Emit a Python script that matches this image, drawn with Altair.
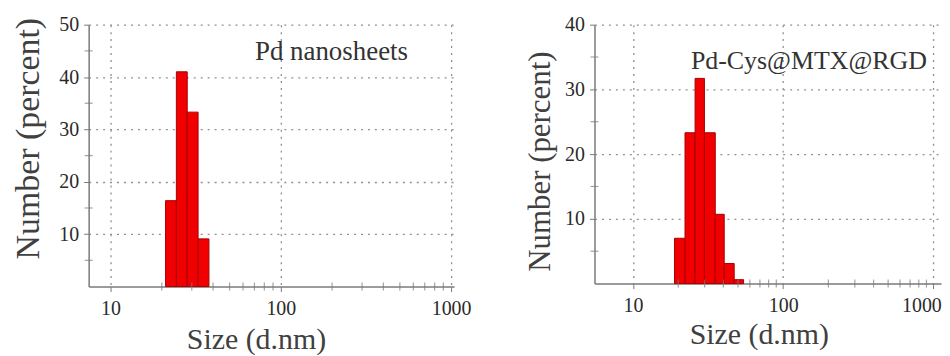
import altair as alt
import pandas as pd

FONT = "Liberation Serif"

# ---- data ----
left_lo = [21.04, 24.36, 28.21, 32.67]
left_hi = [24.36, 28.21, 32.67, 37.84]
left_pct = [16.4, 41.0, 33.3, 9.1]

right_lo = [18.9, 22.2, 25.9, 29.9, 35.3, 40.5, 47.2]
right_hi = [22.2, 25.9, 29.9, 35.3, 40.5, 47.2, 54.5]
right_pct = [7.0, 23.3, 31.7, 23.3, 10.7, 3.1, 0.6]

x_major = [10, 100, 1000]
x_minor = [20, 30, 40, 50, 60, 70, 80, 90, 200, 300, 400, 500, 600, 700, 800, 900]
left_y_major = [10, 20, 30, 40, 50]
left_y_minor = [5, 15, 25, 35, 45]
right_y_major = [10, 20, 30, 40]
right_y_minor = [5, 15, 25, 35]

labels = ["Pd nanosheets", "Pd-Cys@MTX@RGD"]
label_x = [70.5, 24.3]
label_y = [43.3, 33.1]

RED = "#f00000"
EDGE = "#a80000"
AXC = "#7a7a7a"


def panel(lo, hi, pct, xdom, ymax, ymaj, ymin, width, height, label, lx, ly,
          ytitle_size, ytx, yty, xtx, xty, last_label_shift, label_size):
    xs = alt.Scale(type="log", domain=xdom, nice=False)
    ys = alt.Scale(domain=[0, ymax], nice=False, zero=True)
    xaxis = alt.Axis(
        values=x_major, format="d", title="Size (d.nm)", grid=True,
        gridDash=[2, 5], gridColor="#909090", gridWidth=1.3,
        domainColor=AXC, domainWidth=1.5, tickColor=AXC, tickSize=5,
        labelFont=FONT, labelFontSize=20, labelColor="#2a2a2a", labelPadding=7,
        labelAlign={"condition": {"test": "datum.value >= 1000", "value": "right" if last_label_shift else "center"}, "value": "center"},
        labelOffset={"condition": {"test": "datum.value >= 1000", "value": last_label_shift}, "value": 0},
        titleFont=FONT, titleFontSize=30, titleFontWeight="normal", titleColor="#404040",
        titleX=xtx, titleY=xty, titleBaseline="alphabetic", titleAlign="center",
    )
    yaxis = alt.Axis(
        values=ymaj, title="Number (percent)", grid=True,
        gridDash=[2, 5], gridColor="#909090", gridWidth=1.3,
        domainColor=AXC, domainWidth=1.5, tickColor=AXC, tickSize=5,
        labelFont=FONT, labelFontSize=20, labelColor="#2a2a2a", labelPadding=5,
        titleFont=FONT, titleFontSize=ytitle_size, titleFontWeight="normal", titleColor="#404040",
        titleX=ytx, titleY=yty, titleBaseline="middle", titleAlign="center", titleAngle=270,
    )
    df = pd.DataFrame({"lo": lo, "hi": hi, "pct": pct, "base": [0] * len(lo)})
    bars = alt.Chart(df).mark_rect(fill=RED, stroke=EDGE, strokeWidth=1).encode(
        x=alt.X("lo:Q", scale=xs, axis=xaxis),
        x2="hi:Q",
        y=alt.Y("pct:Q", scale=ys, axis=yaxis),
        y2="base:Q",
    )
    xm = pd.DataFrame({"m": [v for v in x_minor if xdom[0] <= v <= xdom[1]]})
    xticks = alt.Chart(xm).mark_tick(orient="vertical", size=8, thickness=1.2, color=AXC).encode(
        x=alt.X("m:Q", scale=xs, axis=xaxis),
        y=alt.datum(0),
    )
    ym = pd.DataFrame({"m": ymin})
    yticks = alt.Chart(ym).mark_tick(orient="horizontal", size=8, thickness=1.2, color=AXC).encode(
        x=alt.datum(xdom[0]),
        y=alt.Y("m:Q", scale=ys, axis=yaxis),
    )
    tx = pd.DataFrame({"t": [label], "x": [lx], "y": [ly]})
    text = alt.Chart(tx).mark_text(align="left", baseline="alphabetic", font=FONT,
                                   fontSize=label_size, color="#333333").encode(
        x=alt.X("x:Q", scale=xs, axis=xaxis),
        y=alt.Y("y:Q", scale=ys, axis=yaxis),
        text="t:N",
    )
    return alt.layer(bars, xticks, yticks, text).properties(width=width, height=height)


left = panel(left_lo, left_hi, left_pct, [7.44, 1041], 50, left_y_major, left_y_minor,
             367, 263, labels[0], label_x[0], label_y[0], 34, -60, 114, 168, 62, 0, 27)
right = panel(right_lo, right_hi, right_pct, [5.54, 1125], 40, right_y_major, right_y_minor,
              348, 260, labels[1], label_x[1], label_y[1], 31, -54, 137, 165, 60, 8, 26)

chart = alt.hconcat(left, right, spacing=52).properties(
    padding={"left": 3, "top": 6, "right": 0, "bottom": 0}
).configure_view(strokeOpacity=0)

chart.save("out.html", embed_options={"renderer": "svg", "actions": False})
